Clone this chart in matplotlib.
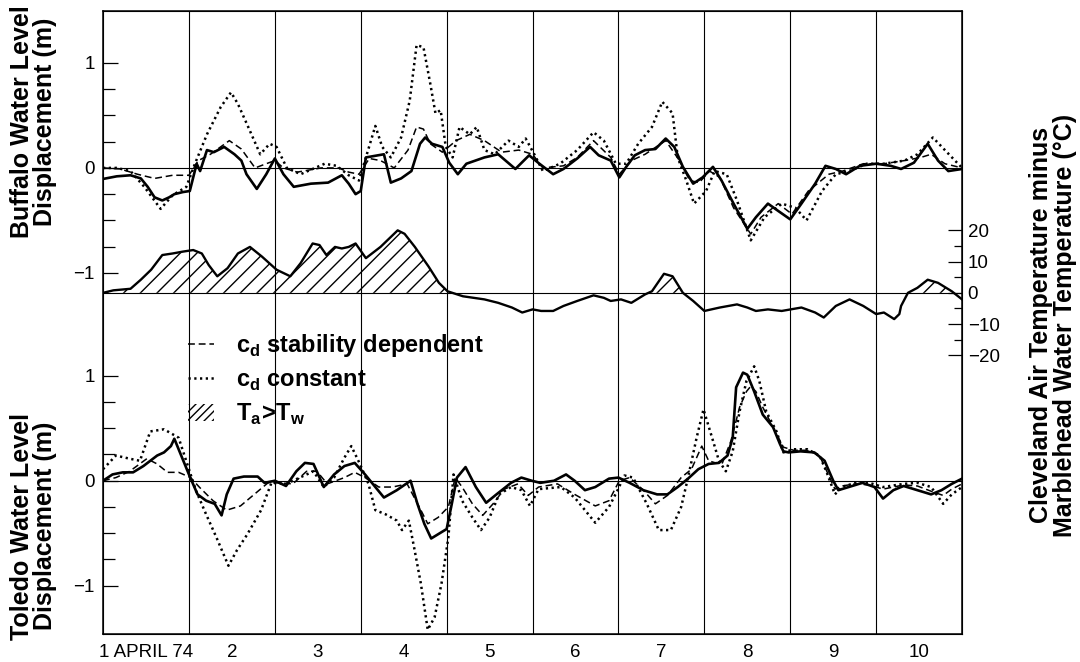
import numpy as np
import matplotlib
matplotlib.use("Agg")
import matplotlib.pyplot as plt
from matplotlib.lines import Line2D
from matplotlib.patches import Patch

plt.rcParams['font.family'] = ['Liberation Sans', 'DejaVu Sans']
plt.rcParams['mathtext.fontset'] = 'custom'
plt.rcParams['mathtext.rm'] = 'Liberation Sans'
plt.rcParams['mathtext.bf'] = 'Liberation Sans:bold'
plt.rcParams['hatch.linewidth'] = 1.0

# ---- data (days since 1 April 1974 00:00) ----
day_labels = ['1 APRIL 74', '2', '3', '4', '5', '6', '7', '8', '9', '10']

# Buffalo, observed (solid)
buf_obs_day = [0, .16, .32, .44, .52, .60, .69, .77, .83, .93, 1.01, 1.09, 1.13, 1.21, 1.29, 1.41,
               1.53, 1.61, 1.67, 1.79, 1.90, 2.0, 2.10, 2.22, 2.42, 2.62, 2.78, 2.86, 2.94, 3.0,
               3.06, 3.27, 3.35, 3.47, 3.59, 3.69, 3.75, 3.83, 3.95, 4.03, 4.13, 4.23, 4.44, 4.6,
               4.8, 4.96, 5.08, 5.24, 5.36, 5.52, 5.67, 5.77, 5.91, 6.01, 6.09, 6.19, 6.31, 6.43,
               6.55, 6.65, 6.75, 6.87, 6.98, 7.10, 7.20, 7.34, 7.5, 7.6, 7.74, 7.86, 8.0, 8.13,
               8.29, 8.41, 8.53, 8.65, 8.81, 9.0, 9.17, 9.29, 9.44, 9.60, 9.72, 9.84, 10.0]
buf_obs = [-0.105, -0.08, -0.07, -0.1, -0.18, -0.28, -0.31, -0.28, -0.25, -0.23, -0.22, 0.04, -0.03,
           0.17, 0.15, 0.2, 0.13, 0.07, -0.06, -0.2, -0.06, 0.09, -0.06, -0.18, -0.15, -0.14,
           -0.07, -0.15, -0.25, -0.22, 0.10, 0.13, -0.14, -0.1, -0.03, 0.23, 0.29, 0.23, 0.2,
           0.05, -0.06, 0.04, 0.10, 0.13, -0.01, 0.12, 0.04, -0.06, -0.01, 0.09, 0.2, 0.12,
           0.07, -0.09, 0.01, 0.12, 0.17, 0.18, 0.28, 0.2, 0.01, -0.15, -0.09, 0.01, -0.12,
           -0.34, -0.58, -0.47, -0.34, -0.41, -0.49, -0.34, -0.15, 0.02, -0.01, -0.06, 0.02,
           0.04, 0.02, -0.01, 0.05, 0.23, 0.07, -0.03, -0.01]

# Buffalo, c_d stability dependent (dashed)
buf_sd_day = [0, .2, .4, .6, .81, 1.0, 1.11, 1.25, 1.47, 1.61, 1.77, 1.9, 2.0, 2.1, 2.26, 2.54,
              2.74, 2.86, 2.98, 3.1, 3.23, 3.39, 3.55, 3.65, 3.73, 3.81, 3.95, 4.11, 4.27, 4.44,
              4.64, 4.84, 5.0, 5.12, 5.36, 5.52, 5.71, 5.91, 6.01, 6.15, 6.31, 6.55, 6.71, 6.83,
              6.94, 7.06, 7.18, 7.34, 7.54, 7.66, 7.86, 8.02, 8.21, 8.45, 8.61, 8.85, 9.09,
              9.33, 9.52, 9.64, 9.80, 10.0]
buf_sd = [0.0, -0.01, -0.06, -0.1, -0.07, -0.07, 0.07, 0.13, 0.26, 0.18, 0.0, 0.04, 0.07, 0.0,
          -0.04, 0.0, 0.0, -0.04, -0.06, 0.09, 0.07, 0.0, 0.17, 0.39, 0.37, 0.23, 0.15, 0.26,
          0.32, 0.26, 0.15, 0.17, 0.13, 0.0, 0.02, 0.1, 0.26, 0.1, -0.06, 0.07, 0.13, 0.26,
          0.07, -0.12, -0.14, -0.03, -0.09, -0.38, -0.63, -0.47, -0.34, -0.44, -0.22, -0.06,
          -0.03, 0.04, 0.04, 0.07, 0.1, 0.13, 0.04, 0.0]

# Buffalo, c_d constant (dotted)
buf_cc_day = [0, .16, .32, .48, .67, .81, .97, 1.07, 1.21, 1.37, 1.49, 1.57, 1.69, 1.83, 1.94,
              2.02, 2.14, 2.3, 2.58, 2.72, 2.86, 2.98, 3.06, 3.17, 3.25, 3.35, 3.47, 3.57, 3.65,
              3.73, 3.81, 3.87, 3.93, 3.99, 4.07, 4.15, 4.27, 4.35, 4.44, 4.56, 4.72, 4.84, 4.92,
              5.02, 5.12, 5.32, 5.52, 5.71, 5.83, 5.97, 6.09, 6.23, 6.39, 6.51, 6.63, 6.69, 6.79,
              6.88, 7.02, 7.12, 7.26, 7.38, 7.54, 7.70, 7.90, 8.06, 8.19, 8.37, 8.53, 8.69, 8.89,
              9.09, 9.33, 9.48, 9.66, 9.80, 10.0]
buf_cc = [0, 0, -0.03, -0.18, -0.39, -0.26, -0.18, 0.04, 0.32, 0.58, 0.72, 0.61, 0.39, 0.13, 0.23,
          0.2, 0, -0.06, 0.04, 0.02, -0.07, -0.12, 0.1, 0.4, 0.2, 0.1, 0.29, 0.64, 1.17, 1.15,
          0.8, 0.52, 0.55, 0.2, 0.1, 0.39, 0.32, 0.39, 0.17, 0.13, 0.26, 0.2, 0.28, 0.13, -0.03,
          0.04, 0.17, 0.34, 0.26, 0.04, 0.04, 0.23, 0.39, 0.63, 0.52, 0.1, -0.12, -0.34, -0.22,
          -0.03, -0.06, -0.31, -0.69, -0.47, -0.34, -0.38, -0.5, -0.22, -0.06, -0.03, 0.04,
          0.04, 0.07, 0.13, 0.29, 0.17, 0.0]

# Toledo, observed (solid)
tol_obs_day = [0, .11, .23, .35, .47, .55, .63, .71, .79, .83, .92, 1.0, 1.1, 1.2, 1.3, 1.38, 1.44,
               1.52, 1.64, 1.80, 1.88, 2.0, 2.13, 2.25, 2.35, 2.45, 2.57, 2.69, 2.81, 2.93, 3.05,
               3.17, 3.27, 3.42, 3.58, 3.66, 3.74, 3.82, 3.94, 4.0, 4.06, 4.12, 4.22, 4.34, 4.46,
               4.58, 4.75, 4.87, 4.99, 5.09, 5.25, 5.39, 5.49, 5.61, 5.73, 5.89, 6.0, 6.13, 6.29,
               6.45, 6.57, 6.69, 6.81, 6.93, 7.05, 7.17, 7.27, 7.33, 7.37, 7.45, 7.5, 7.58, 7.68,
               7.8, 7.88, 7.92, 7.98, 8.12, 8.28, 8.4, 8.5, 8.56, 8.68, 8.84, 8.98, 9.08, 9.2,
               9.32, 9.48, 9.64, 9.76, 9.88, 10.0]
tol_obs = [0, 0.06, 0.08, 0.08, 0.14, 0.19, 0.24, 0.27, 0.33, 0.4, 0.22, 0.06, -0.13, -0.19, -0.22,
           -0.33, -0.13, 0.02, 0.04, 0.04, -0.02, 0, -0.05, 0.09, 0.17, 0.16, -0.06, 0.06, 0.14,
           0.17, 0.06, -0.06, -0.16, -0.09, 0, -0.22, -0.41, -0.55, -0.49, -0.46, -0.22, 0.03,
           0.13, -0.06, -0.21, -0.13, -0.02, 0.03, 0.0, -0.02, 0, 0.06, 0, -0.09, -0.06, 0.02,
           0.03, -0.02, -0.09, -0.13, -0.13, -0.06, 0.02, 0.11, 0.16, 0.17, 0.24, 0.41, 0.89,
           1.03, 1.01, 0.85, 0.63, 0.51, 0.35, 0.28, 0.27, 0.28, 0.27, 0.19, 0.0, -0.09, -0.06,
           -0.02, -0.06, -0.17, -0.09, -0.05, -0.09, -0.13, -0.09, -0.03, 0.02]

# Toledo, c_d stability dependent (dashed)
tol_sd_day = [0, .15, .31, .51, .63, .75, .88, 1.02, 1.12, 1.28, 1.44, 1.6, 1.76, 1.92, 2.04, 2.21,
              2.37, 2.49, 2.61, 2.81, 2.93, 3.05, 3.21, 3.37, 3.54, 3.7, 3.78, 3.9, 4.02, 4.1,
              4.18, 4.3, 4.42, 4.54, 4.67, 4.83, 4.95, 5.07, 5.29, 5.49, 5.73, 5.89, 6.01, 6.13,
              6.29, 6.43, 6.57, 6.73, 6.85, 6.97, 7.05, 7.13, 7.21, 7.31, 7.41, 7.49, 7.54, 7.6,
              7.68, 7.8, 7.92, 8.04, 8.2, 8.34, 8.42, 8.52, 8.6, 8.76, 8.92, 9.08, 9.32, 9.48,
              9.64, 9.78, 9.88, 10.0]
tol_sd = [0, 0.03, 0.09, 0.21, 0.16, 0.08, 0.08, 0.03, -0.06, -0.19, -0.28, -0.24, -0.13, -0.02,
          -0.02, -0.03, 0.09, 0.09, -0.03, 0.03, 0.08, 0.03, -0.06, -0.06, -0.03, -0.28, -0.41,
          -0.35, -0.25, 0.03, -0.06, -0.22, -0.33, -0.22, -0.08, -0.03, -0.14, -0.06, -0.03,
          -0.13, -0.24, -0.19, 0, 0.03, -0.09, -0.22, -0.14, 0.03, 0.11, 0.33, 0.19, 0.17, 0.17,
          0.38, 0.7, 0.85, 0.9, 0.85, 0.7, 0.51, 0.32, 0.29, 0.29, 0.24, 0.1, -0.08, -0.05,
          -0.03, -0.04, -0.08, -0.04, -0.05, -0.1, -0.14, -0.08, -0.03]

# Toledo, c_d constant (dotted)
tol_cc_day = [0, .15, .31, .43, .55, .71, .88, .98, 1.08, 1.2, 1.32, 1.46, 1.56, 1.68, 1.84, 1.96,
              2.13, 2.29, 2.45, 2.57, 2.69, 2.81, 2.89, 2.99, 3.09, 3.17, 3.29, 3.42, 3.48, 3.56,
              3.62, 3.7, 3.78, 3.86, 3.94, 4.02, 4.08, 4.18, 4.3, 4.4, 4.5, 4.61, 4.75, 4.87,
              4.97, 5.07, 5.33, 5.49, 5.73, 5.89, 5.99, 6.07, 6.17, 6.33, 6.47, 6.61, 6.73, 6.81,
              6.91, 6.99, 7.09, 7.17, 7.25, 7.33, 7.41, 7.49, 7.58, 7.64, 7.72, 7.84, 7.92, 8.04,
              8.2, 8.34, 8.42, 8.52, 8.6, 8.76, 8.92, 9.08, 9.32, 9.48, 9.64, 9.78, 9.88, 10.0]
tol_cc = [0.11, 0.24, 0.21, 0.19, 0.47, 0.49, 0.41, 0.16, -0.09, -0.32, -0.54, -0.81, -0.66, -0.51,
          -0.28, -0.02, -0.03, 0.03, 0.09, -0.06, 0.03, 0.22, 0.33, 0.16, -0.03, -0.28, -0.32,
          -0.38, -0.47, -0.38, -0.63, -0.98, -1.42, -1.3, -0.98, -0.54, 0.06, -0.19, -0.35,
          -0.47, -0.35, -0.13, -0.06, -0.09, -0.24, -0.08, -0.06, -0.16, -0.4, -0.25, -0.09,
          0.05, 0.03, -0.22, -0.47, -0.47, -0.25, 0.03, 0.41, 0.68, 0.41, 0.19, 0.09, 0.28,
          0.66, 0.95, 1.09, 0.95, 0.66, 0.47, 0.27, 0.3, 0.3, 0.24, 0.09, -0.13, -0.06, -0.02,
          -0.02, -0.06, -0.03, -0.02, -0.06, -0.22, -0.13, -0.06]

# Cleveland air minus Marblehead water temperature (deg C)
temp_day = [0, .12, .32, .44, .56, .69, .81, .93, 1.05, 1.15, 1.23, 1.33, 1.45, 1.57, 1.71, 1.85,
            2.02, 2.18, 2.3, 2.44, 2.52, 2.6, 2.7, 2.78, 2.86, 2.94, 3.06, 3.23, 3.43, 3.51, 3.63,
            3.79, 3.91, 4.01, 4.19, 4.44, 4.6, 4.76, 4.88, 5.0, 5.1, 5.24, 5.36, 5.52, 5.71, 5.83,
            5.91, 6.03, 6.15, 6.31, 6.39, 6.53, 6.63, 6.75, 6.87, 7.0, 7.18, 7.38, 7.5, 7.6, 7.74,
            7.9, 8.13, 8.29, 8.39, 8.53, 8.69, 8.85, 9.0, 9.09, 9.21, 9.27, 9.29, 9.37, 9.48, 9.60,
            9.72, 9.88, 10.0]
temp_diff = [0, 0.8, 1.3, 4.2, 7.4, 12.1, 12.6, 13.2, 13.7, 12.6, 8.9, 5.3, 7.9, 12.6, 14.7, 11.6,
             7.4, 5.3, 9.5, 15.8, 15.3, 12.1, 14.7, 14.2, 14.7, 15.8, 11.1, 14.7, 20.0, 18.9, 14.7,
             8.4, 3.2, 0.5, -1.1, -2.1, -3.2, -4.7, -6.3, -5.3, -5.8, -5.8, -4.2, -2.6, -0.8, -1.6,
             -2.6, -2.1, -3.2, -0.5, 0.5, 6.1, 5.3, 0, -2.6, -5.8, -4.7, -3.7, -4.7, -5.8, -5.3,
             -5.8, -4.7, -6.3, -7.9, -4.2, -2.1, -4.2, -6.8, -6.3, -8.4, -6.8, -4.2, 0, 1.6, 4.2,
             3.2, 0.5, -2.1]

# ---- layout of the stacked panels (in Buffalo metres) ----
toledo_offset = 2.98
temp_zero = -1.19
degC_per_m = 33.6
y_top, y_bot = 1.495, -4.44

fig = plt.figure(figsize=(10.8, 6.62), dpi=100)
ax = fig.add_axes([0.0954, 0.0423, 0.7954, 0.9411])
ax.set_xlim(0, 10)
ax.set_ylim(y_bot, y_top)

for d in range(1, 10):
    ax.axvline(d, color='black', lw=0.8, zorder=1)
ax.axhline(0, color='black', lw=0.8, zorder=1)
ax.axhline(-toledo_offset, color='black', lw=0.8, zorder=1)

dash = (0, (4.5, 2.5))
dot = (0, (0.9, 1.4))

ax.plot(buf_obs_day, buf_obs, color='black', lw=1.9, zorder=3)
ax.plot(buf_sd_day, buf_sd, color='black', lw=1.1, ls=dash, zorder=3)
ax.plot(buf_cc_day, buf_cc, color='black', lw=1.8, ls=dot, zorder=3)

ax.plot(tol_obs_day, np.array(tol_obs) - toledo_offset, color='black', lw=1.9, zorder=3)
ax.plot(tol_sd_day, np.array(tol_sd) - toledo_offset, color='black', lw=1.1, ls=dash, zorder=3)
ax.plot(tol_cc_day, np.array(tol_cc) - toledo_offset, color='black', lw=1.8, ls=dot, zorder=3)

# left ticks for both water-level panels
major = [1, 0, -1, 1 - toledo_offset, -toledo_offset, -1 - toledo_offset]
minor = [0.75, 0.5, 0.25, -0.25, -0.5, -0.75]
minor = minor + [v - toledo_offset for v in minor]
ax.set_yticks(major)
ax.set_yticklabels(['1', '0', '\u22121'] * 2)
ax.set_yticks(minor, minor=True)
ax.tick_params(axis='y', which='major', direction='in', length=11, width=0.9,
               labelsize=13.5, pad=6)
ax.tick_params(axis='y', which='minor', direction='in', length=8.5, width=0.9)

ax.set_xticks(np.arange(10) + 0.5)
ax.set_xticklabels(day_labels)
ax.tick_params(axis='x', length=0, labelsize=13.5, pad=7)
for s in ax.spines.values():
    s.set_linewidth(1.1)

# temperature on the right axis
tax = ax.twinx()
tax.set_ylim((y_bot - temp_zero) * degC_per_m, (y_top - temp_zero) * degC_per_m)
t = np.array(temp_diff)
tax.axhline(0, color='black', lw=0.8, zorder=1)
tax.fill_between(temp_day, 0, t, where=t > 0, interpolate=True, facecolor='none',
                 edgecolor='black', hatch='//', linewidth=0)
tax.plot(temp_day, t, color='black', lw=1.7)
tax.set_yticks([20, 10, 0, -10, -20])
tax.set_yticklabels(['20', '10', '0', '\u221210', '\u221220'])
tax.set_yticks([15, 5, -5, -15], minor=True)
tax.tick_params(axis='y', which='major', direction='in', length=10, width=0.9,
                labelsize=13.5, pad=4)
tax.tick_params(axis='y', which='minor', direction='in', length=6, width=0.9)

# legend
handles = [Line2D([], [], color='black', lw=1.1, ls=dash),
           Line2D([], [], color='black', lw=1.8, ls=dot),
           Patch(facecolor='none', edgecolor='black', hatch='////', linewidth=0)]
labels = [r'$\mathbf{c}_\mathbf{d}$ stability dependent',
          r'$\mathbf{c}_\mathbf{d}$ constant',
          r'$\mathbf{T}_\mathbf{a}\!\mathbf{>}\!\mathbf{T}_\mathbf{w}$']
leg = ax.legend(handles, labels, loc='upper left', bbox_to_anchor=(0.099, 0.484),
                frameon=False, borderpad=0, borderaxespad=0, handlelength=1.1,
                handletextpad=0.95, labelspacing=0.38,
                prop={'size': 17, 'weight': 'bold'})

# axis titles
lab = dict(rotation=90, ha='center', va='center', multialignment='center',
           fontsize=18, fontweight='bold', linespacing=0.95)
fig.text(0.031, 0.816, 'Buffalo Water Level\nDisplacement (m)', **lab)
fig.text(0.031, 0.205, 'Toledo Water Level\nDisplacement (m)', **lab)
fig.text(0.975, 0.509, 'Cleveland Air Temperature minus\nMarblehead Water Temperature (\u00b0C)', **lab)

fig.savefig('out.png', dpi=100)
